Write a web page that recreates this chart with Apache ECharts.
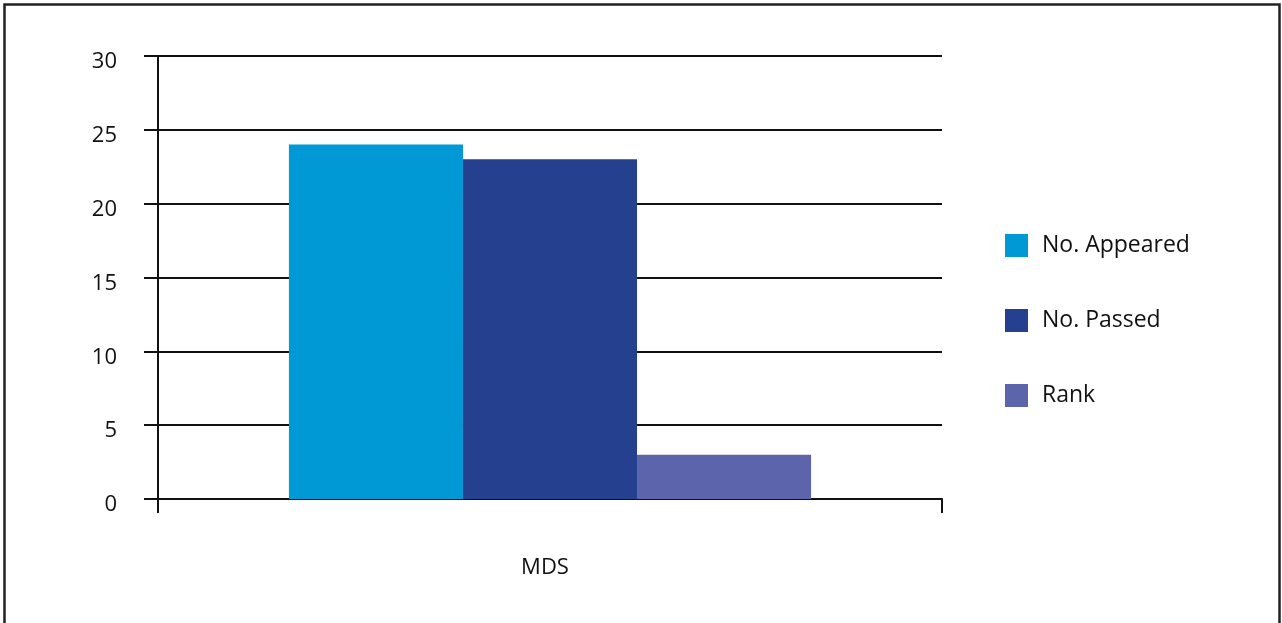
<!DOCTYPE html>
<html>
<head>
<meta charset="utf-8">
<script src="https://cdn.jsdelivr.net/npm/echarts@6/dist/echarts.min.js"></script>
<style>
    html, body { margin: 0; padding: 0; background: #fff; }
    #chart { width: 1282px; height: 623px; }
</style>
</head>
<body>
<div id="chart"></div>
<script>
// data
const categories = ['MDS'];
const appeared = [24];
const passed = [23];
const rank = [3];
const yTicks = { min: 0, max: 30, interval: 5 };

const fontName = 'Open Sans';
let chart = echarts.init(document.getElementById('chart'));

const option = {
    animation: false,
    textStyle: { fontFamily: fontName },
    graphic: [
        {
            type: 'rect',
            shape: { x: 4.5, y: 4.5, width: 1275, height: 650 },
            style: { fill: 'none', stroke: '#222', lineWidth: 2.5 }
        }
    ],
    grid: {
        left: 158,
        right: 340,
        top: 56,
        bottom: 124
    },
    legend: {
        orient: 'vertical',
        left: 1000,
        top: 229,
        itemWidth: 23,
        itemHeight: 23,
        itemGap: 52,
        icon: 'rect',
        textStyle: {
            fontFamily: fontName,
            fontSize: 23,
            color: '#111',
            padding: [0, 0, 0, 9]
        },
        data: ['No. Appeared', 'No. Passed', 'Rank']
    },
    xAxis: {
        type: 'category',
        data: categories,
        axisLine: { lineStyle: { color: '#111', width: 2 } },
        axisTick: { show: true, length: 14, lineStyle: { color: '#111', width: 2 } },
        axisLabel: {
            margin: 58, fontSize: 22, color: '#111', fontFamily: fontName,
            padding: [0, 10, 0, 0]
        }
    },
    yAxis: {
        type: 'value',
        min: yTicks.min,
        max: yTicks.max,
        interval: yTicks.interval,
        axisLine: { show: true, lineStyle: { color: '#111', width: 2 } },
        axisTick: { show: true, length: 14, lineStyle: { color: '#111', width: 2 } },
        axisLabel: {
            margin: 41, fontSize: 22, color: '#111', fontFamily: fontName,
            verticalAlign: 'top', lineHeight: 12
        },
        splitLine: { show: true, lineStyle: { color: '#111', width: 2 } }
    },
    series: [
        {
            name: 'No. Appeared',
            type: 'bar',
            barGap: '0%',
            barCategoryGap: '33.4%',
            itemStyle: { color: '#0098d5' },
            data: appeared
        },
        {
            name: 'No. Passed',
            type: 'bar',
            itemStyle: { color: '#25408f' },
            data: passed
        },
        {
            name: 'Rank',
            type: 'bar',
            itemStyle: { color: '#5c64ac' },
            data: rank
        }
    ]
};
chart.setOption(option);
</script>
</body>
</html>
